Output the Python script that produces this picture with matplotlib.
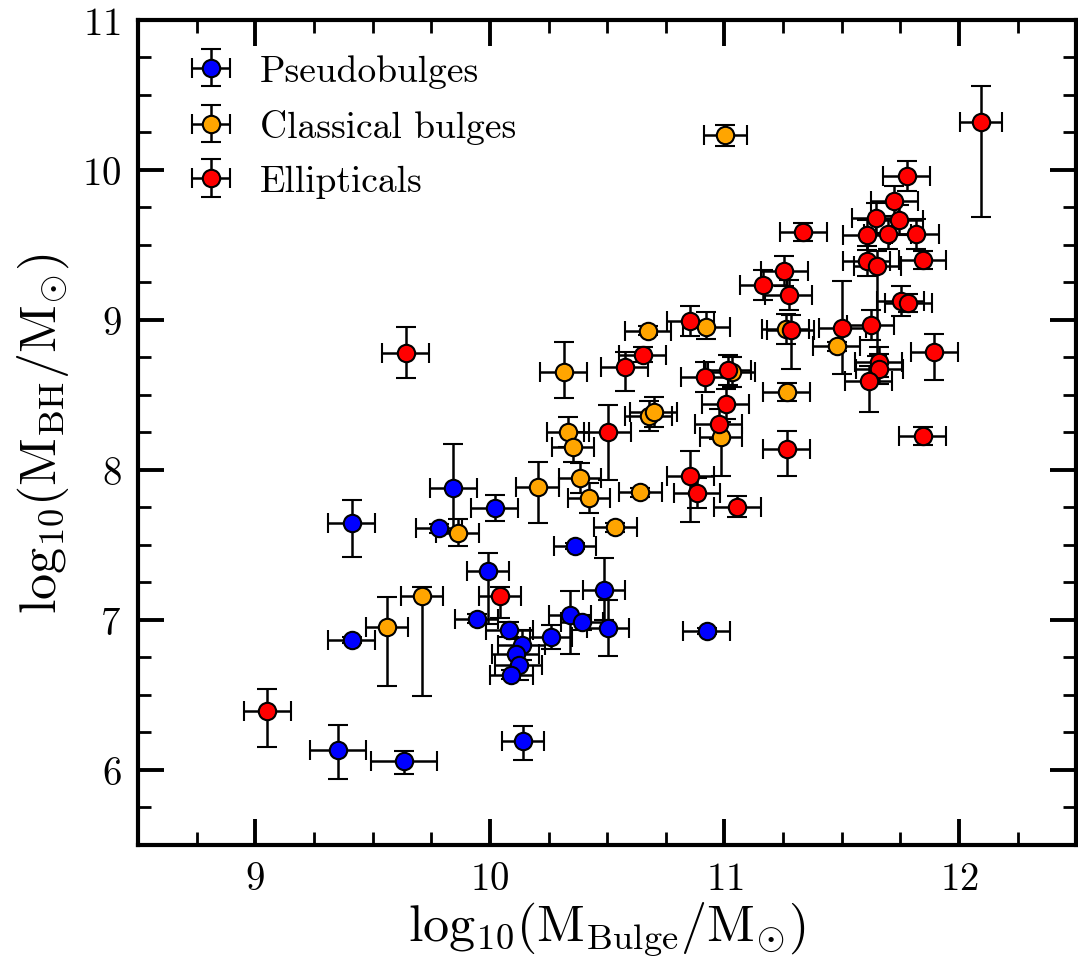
import matplotlib
matplotlib.use("Agg")
import matplotlib.pyplot as plt
import numpy as np

plt.rcParams["font.family"] = "serif"
plt.rcParams["font.serif"] = ["cmr10"]
plt.rcParams["mathtext.fontset"] = "cm"
plt.rcParams["axes.formatter.use_mathtext"] = True

# Pseudobulges: log bulge mass, log BH mass, errors (x, y-low, y-high)
pseudo_x = [9.844, 9.411, 10.021, 9.783, 9.993, 10.364, 9.411, 9.943, 10.082, 10.135,
            10.110, 10.123, 10.092, 10.485, 10.503, 10.343, 10.394, 10.262, 10.925,
            9.352, 9.634, 10.142]
pseudo_y = [7.88, 7.647, 7.745, 7.61, 7.325, 7.491, 6.864, 7.007, 6.935, 6.833,
            6.775, 6.70, 6.635, 7.20, 6.947, 7.036, 6.985, 6.885, 6.925,
            6.133, 6.058, 6.195]
pseudo_xerr = [0.10, 0.10, 0.10, 0.10, 0.09, 0.09, 0.10, 0.09, 0.10, 0.10,
               0.10, 0.10, 0.09, 0.09, 0.09, 0.09, 0.09, 0.09, 0.10,
               0.12, 0.14, 0.09]
pseudo_ylo = [0.29, 0.225, 0.085, 0.03, 0.35, 0.02, 0.02, 0.03, 0.05, 0.10,
              0.10, 0.10, 0.03, 0.20, 0.185, 0.26, 0.05, 0.08, 0.02,
              0.19, 0.085, 0.13]
pseudo_yhi = [0.29, 0.15, 0.085, 0.03, 0.12, 0.02, 0.02, 0.03, 0.05, 0.10,
              0.10, 0.10, 0.03, 0.21, 0.185, 0.16, 0.05, 0.08, 0.02,
              0.17, 0.07, 0.10]

# Classical bulges
classical_x = [11.004, 9.862, 9.712, 9.562, 10.535, 11.262, 10.674, 10.923, 10.315,
               11.030, 11.266, 10.986, 10.677, 10.698, 10.333, 10.354, 10.203,
               10.383, 10.423, 10.642, 11.478]
classical_y = [10.233, 7.58, 7.162, 6.955, 7.618, 8.94, 8.929, 8.951, 8.655,
               8.65, 8.518, 8.218, 8.358, 8.384, 8.255, 8.155, 7.885,
               7.945, 7.813, 7.851, 8.825]
classical_xerr = [0.09, 0.09, 0.09, 0.09, 0.09, 0.10, 0.10, 0.10, 0.10,
                  0.10, 0.10, 0.09, 0.10, 0.10, 0.09, 0.09, 0.09,
                  0.09, 0.09, 0.09, 0.10]
classical_ylo = [0.07, 0.09, 0.667, 0.397, 0.03, 0.10, 0.03, 0.08, 0.172,
                 0.10, 0.06, 0.256, 0.10, 0.10, 0.10, 0.10, 0.24,
                 0.10, 0.10, 0.03, 0.03]
classical_yhi = [0.07, 0.09, 0.056, 0.196, 0.03, 0.10, 0.03, 0.10, 0.197,
                 0.10, 0.06, 0.10, 0.10, 0.10, 0.10, 0.10, 0.17,
                 0.10, 0.10, 0.03, 0.03]

# Ellipticals
ellip_x = [9.641, 10.043, 9.052, 12.095, 11.776, 11.723, 11.645, 11.745, 11.606,
           11.695, 11.815, 11.336, 11.606, 11.652, 11.845, 11.255, 11.166, 11.274,
           11.752, 11.784, 11.283, 11.503, 11.624, 11.894, 11.657, 11.660, 11.614,
           11.845, 11.265, 10.855, 10.652, 10.574, 10.915, 11.014, 11.006, 10.975,
           10.503, 10.855, 10.883, 11.054]
ellip_y = [8.78, 7.162, 6.391, 10.318, 9.958, 9.791, 9.678, 9.669, 9.569,
           9.573, 9.573, 9.589, 9.395, 9.362, 9.402, 9.325, 9.236, 9.167,
           9.129, 9.113, 8.935, 8.947, 8.967, 8.789, 8.722, 8.673, 8.596,
           8.229, 8.14, 8.995, 8.769, 8.689, 8.622, 8.669, 8.438, 8.309,
           8.251, 7.958, 7.847, 7.755]
ellip_xerr = [0.10, 0.09, 0.10, 0.09, 0.10, 0.10, 0.10, 0.10, 0.10,
              0.10, 0.10, 0.10, 0.10, 0.10, 0.10, 0.10, 0.10, 0.10,
              0.10, 0.10, 0.10, 0.10, 0.10, 0.10, 0.10, 0.10, 0.10,
              0.10, 0.10, 0.10, 0.10, 0.10, 0.10, 0.10, 0.10, 0.10,
              0.10, 0.10, 0.10, 0.10]
ellip_ylo = [0.17, 0.15, 0.236, 0.63, 0.10, 0.10, 0.10, 0.10, 0.10,
             0.10, 0.10, 0.06, 0.10, 0.60, 0.06, 0.10, 0.10, 0.10,
             0.10, 0.06, 0.26, 0.31, 0.10, 0.187, 0.10, 0.10, 0.21,
             0.06, 0.18, 0.10, 0.05, 0.164, 0.10, 0.10, 0.10, 0.10,
             0.32, 0.307, 0.10, 0.07]
ellip_yhi = [0.17, 0.06, 0.149, 0.24, 0.10, 0.10, 0.10, 0.10, 0.10,
             0.10, 0.10, 0.06, 0.10, 0.10, 0.06, 0.10, 0.10, 0.10,
             0.10, 0.06, 0.10, 0.31, 0.10, 0.116, 0.10, 0.10, 0.10,
             0.06, 0.12, 0.10, 0.05, 0.10, 0.10, 0.10, 0.10, 0.10,
             0.183, 0.171, 0.10, 0.07]

groups = [
    ("Pseudobulges", pseudo_x, pseudo_y, pseudo_xerr, pseudo_ylo, pseudo_yhi, "#0000ff"),
    ("Classical bulges", classical_x, classical_y, classical_xerr, classical_ylo, classical_yhi, "#ffa500"),
    ("Ellipticals", ellip_x, ellip_y, ellip_xerr, ellip_ylo, ellip_yhi, "#ff0000"),
]

fig = plt.figure(figsize=(10.78, 9.79), dpi=100)
ax = fig.add_axes([0.128, 0.1359, 0.8705, 0.8427])

for label, x, y, xe, ylo, yhi, color in groups:
    ax.errorbar(x, y, xerr=xe, yerr=[ylo, yhi], fmt="o", color="black",
                mfc=color, mec="black", mew=1.5, ms=12.5, elinewidth=1.8,
                capsize=7.5, capthick=1.8, label=label)

ax.set_xlim(8.5, 12.5)
ax.set_ylim(5.5, 11)
ax.set_xticks([9, 10, 11, 12])
ax.set_yticks([6, 7, 8, 9, 10, 11])
ax.set_xticks(np.arange(8.5, 12.51, 0.25), minor=True)
ax.set_yticks(np.arange(5.5, 11.01, 0.25), minor=True)

ax.tick_params(which="both", direction="in", top=True, right=True)
ax.tick_params(which="major", length=18.5, width=2.8, labelsize=28, pad=12)
ax.tick_params(which="minor", length=9.5, width=2.0)
for s in ax.spines.values():
    s.set_linewidth(3.0)

ax.set_xlabel(r"$\mathrm{log}_{10}(\mathrm{M}_{\mathrm{Bulge}}/\mathrm{M}_{\odot})$",
              fontsize=37.5, labelpad=2)
ax.set_ylabel(r"$\mathrm{log}_{10}(\mathrm{M}_{\mathrm{BH}}/\mathrm{M}_{\odot})$",
              fontsize=37.5, labelpad=8)

ax.legend(loc="upper left", bbox_to_anchor=(0.014, 0.995), frameon=False,
          fontsize=27, handletextpad=0.5, labelspacing=0.56,
          borderaxespad=0.4, handlelength=1.6)

fig.savefig("out.png", dpi=100)
